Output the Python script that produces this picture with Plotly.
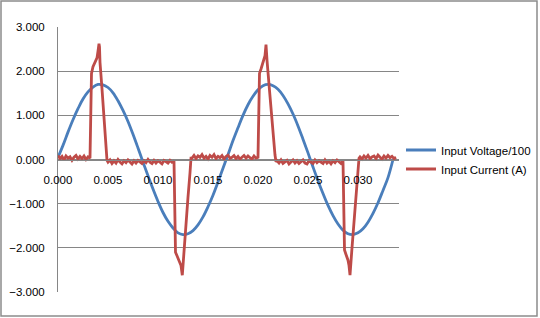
import plotly.graph_objects as go

# ---- data ----
volt_step = 0.0005
voltage = [0.05, 0.32, 0.62, 0.90, 1.15, 1.37, 1.53, 1.64, 1.70, 1.69,
           1.63, 1.51, 1.33, 1.11, 0.86, 0.57, 0.26, -0.06, -0.37, -0.67,
           -0.95, -1.20, -1.40, -1.55, -1.66, -1.70, -1.68, -1.61, -1.48, -1.30,
           -1.07, -0.81, -0.51, -0.20, 0.11, 0.43, 0.72, 1.00, 1.24, 1.43,
           1.58, 1.67, 1.70, 1.67, 1.59, 1.45, 1.26, 1.03, 0.76, 0.46,
           0.15, -0.17, -0.48, -0.77, -1.04, -1.27, -1.46, -1.60, -1.68, -1.70,
           -1.66, -1.57, -1.42, -1.22, -0.98, -0.70, -0.41, 0.00]
volt_t = [round(i * volt_step, 5) for i in range(len(voltage))]

noise_step = 0.0002
segA_start, segA = 0.0, [0.09, 0.02, 0.07, -0.01, 0.08, 0.03, 0.06, -0.02, 0.05, 0.09,
                         0.01, 0.07, 0.02, 0.08, 0.00, 0.06, 0.03]
spike1_t = [0.00335, 0.0035, 0.0037, 0.0039, 0.0040, 0.0041, 0.00415, 0.0042, 0.0044, 0.0046, 0.0048, 0.0049]
spike1_i = [1.95, 2.10, 2.20, 2.30, 2.45, 2.62, 2.55, 2.20, 1.60, 1.00, 0.40, -0.02]
segB_start, segB = 0.0050, [-0.06, -0.01, -0.09, -0.03, -0.08, 0.00, -0.06, -0.10, -0.03, -0.07,
                            -0.01, -0.06, -0.10, -0.03, -0.08, -0.02, -0.06, -0.09, -0.03, -0.07,
                            0.00, -0.06, -0.09, -0.02, -0.08, -0.03, -0.06, -0.10, -0.02, -0.06,
                            -0.08, -0.02, -0.06, -0.03]
spike2_t = [0.01175, 0.0119, 0.0121, 0.0123, 0.01243, 0.0126, 0.0128, 0.0130, 0.0132, 0.0133]
spike2_i = [-2.10, -2.18, -2.28, -2.40, -2.62, -2.05, -1.40, -0.85, -0.30, 0.03]
segC_start, segC = 0.0134, [0.03, 0.09, 0.02, 0.08, 0.05, 0.11, 0.03, 0.07, 0.01, 0.09,
                            0.05, 0.11, 0.02, 0.07, 0.04, 0.09, 0.01, 0.07, 0.10, 0.03,
                            0.05, 0.09, 0.02, 0.07, 0.01, 0.06, 0.09, 0.03, 0.08, 0.04,
                            0.01, 0.08, 0.03, 0.05]
spike3_t = [0.02015, 0.0203, 0.0205, 0.0207, 0.0208, 0.02085, 0.0209, 0.0211, 0.0213, 0.0215, 0.0217, 0.0218]
spike3_i = [1.95, 2.05, 2.18, 2.35, 2.60, 2.50, 2.25, 1.70, 1.10, 0.55, 0.10, -0.05]
segD_start, segD = 0.0219, [-0.03, -0.08, -0.01, -0.09, -0.05, -0.02, -0.10, -0.05, -0.01, -0.08,
                            -0.03, -0.09, -0.05, -0.01, -0.08, -0.10, -0.03, -0.06, -0.09, -0.01,
                            -0.07, -0.03, -0.06, -0.09, -0.01, -0.08, -0.04, -0.10, -0.03, -0.07,
                            -0.01, -0.06, -0.09, -0.03]
spike4_t = [0.02865, 0.0288, 0.0290, 0.0291, 0.0292, 0.0294, 0.0296, 0.0298, 0.0300, 0.0301]
spike4_i = [-2.05, -2.15, -2.28, -2.40, -2.62, -2.00, -1.45, -0.90, -0.35, 0.03]
segE_start, segE = 0.0302, [0.06, 0.01, 0.08, 0.03, 0.09, 0.02, 0.06, 0.08, 0.02, 0.10,
                            0.05, 0.01, 0.08, 0.03, 0.09, 0.04, 0.07, 0.02, 0.05]

series_names = ["Input Voltage/100", "Input Current (A)"]
x_ticks = [0.0, 0.005, 0.010, 0.015, 0.020, 0.025, 0.030]
y_ticks = [3, 2, 1, 0, -1, -2, -3]


def seg_times(start, vals):
    return [round(start + i * noise_step, 6) for i in range(len(vals))]


cur_t, cur_i = [], []
for start, vals, st, si in [(segA_start, segA, spike1_t, spike1_i),
                            (segB_start, segB, spike2_t, spike2_i),
                            (segC_start, segC, spike3_t, spike3_i),
                            (segD_start, segD, spike4_t, spike4_i),
                            (segE_start, segE, [], [])]:
    cur_t += seg_times(start, vals) + st
    cur_i += vals + si

BLUE = "#4a7ebb"
RED = "#be4b48"
GRID = "#868686"

# paper spans x 58..535 px, y 292..27 px
PW = 477.0
PH = 265.0

fig = go.Figure()
fig.add_trace(go.Scatter(x=volt_t, y=voltage, mode="lines", name=series_names[0],
                         line=dict(color=BLUE, width=2.8, shape="spline")))
fig.add_trace(go.Scatter(x=cur_t, y=cur_i, mode="lines", name=series_names[1],
                         line=dict(color=RED, width=2.8)))

fig.update_layout(
    width=540, height=318,
    margin=dict(l=58, r=5, t=27, b=26, autoexpand=False),
    paper_bgcolor="white", plot_bgcolor="white",
    font=dict(family="Liberation Sans, Arial, sans-serif", size=11, color="#000000"),
    showlegend=True,
    legend=dict(x=(401 - 58) / PW, y=0.5, xanchor="left", yanchor="middle",
                font=dict(size=11.5), bgcolor="rgba(0,0,0,0)", tracegroupgap=0),
    xaxis=dict(domain=[0, 341 / PW], range=[0, 0.0341], tickvals=x_ticks, tickformat=".3f",
               showgrid=False, zeroline=False, showline=True, linecolor=GRID, linewidth=1,
               anchor="free", position=0.5,
               ticks="outside", ticklen=10, tickcolor="rgba(0,0,0,0)",
               tickfont=dict(size=11.5)),
    yaxis=dict(range=[-3, 3], tickvals=y_ticks, tickformat=".3f",
               showgrid=True, gridcolor=GRID, gridwidth=1, zeroline=False,
               showline=True, linecolor=GRID, linewidth=1,
               ticks="outside", ticklen=10, tickcolor="rgba(0,0,0,0)",
               tickfont=dict(size=11.5)),
    shapes=[dict(type="rect", xref="paper", yref="paper",
                 x0=(1 - 58) / PW, x1=(537 - 58) / PW,
                 y0=(292 - 316) / PH, y1=(292 - 1) / PH,
                 line=dict(color="#8c8c8c", width=1.5), layer="below")],
)

fig.write_html("out.html")
